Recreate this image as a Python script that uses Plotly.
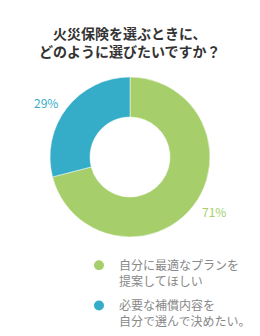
import math
import plotly.graph_objects as go

labels = ["自分に最適なプランを<br>提案してほしい", "必要な補償内容を<br>自分で選んで決めたい。"]
values = [71, 29]
colors = ["#a6cf6b", "#35adc8"]
title = "火災保険を選ぶときに、<br>どのように選びたいですか？"

FONT = "Noto Sans CJK JP"
W, H = 260, 336
CX, CY, R = 130, 157, 80  # pie centre / radius in pixels

fig = go.Figure()
fig.add_trace(go.Pie(
    labels=labels, values=values, hole=0.5, sort=False, direction="clockwise",
    rotation=0, marker=dict(colors=colors, line=dict(color="white", width=0.5)),
    textinfo="none", showlegend=False, hoverinfo="label+percent",
    domain=dict(x=[(CX - R) / W, (CX + R) / W], y=[(H - CY - R) / H, (H - CY + R) / H]),
))
for i, (lab, col) in enumerate(zip(labels, colors)):
    fig.add_trace(go.Scatter(
        x=[None], y=[None], mode="markers", name=lab, legendgroup=f"g{i}",
        marker=dict(color=col, size=10, symbol="circle"),
    ))

# percentage labels just outside each slice's middle
total = sum(values)
cum = 0
for v, col in zip(values, colors):
    mid = (cum + v / 2) / total * 2 * math.pi
    cum += v
    px = CX + (R + 9) * math.sin(mid)
    py = CY - (R + 9) * math.cos(mid)
    fig.add_annotation(text=f"{round(v / total * 100)}%", x=px / W, y=1 - py / H,
                       xref="paper", yref="paper", showarrow=False,
                       xanchor="left" if math.sin(mid) > 0 else "right", yanchor="middle",
                       font=dict(size=12, color=col, family=FONT))

fig.add_annotation(text="<b>" + title + "</b>", x=0.5, xref="paper", xanchor="center",
                   y=1 - 21 / H, yref="paper", yanchor="top", showarrow=False,
                   font=dict(size=14, color="#333333", family=FONT))

fig.update_layout(
    width=W, height=H, margin=dict(l=0, r=0, t=0, b=0, autoexpand=False),
    paper_bgcolor="white", plot_bgcolor="white",
    font=dict(family=FONT),
    xaxis=dict(visible=False), yaxis=dict(visible=False),
    legend=dict(x=79 / W, y=1 - 251 / H, xanchor="left", yanchor="top",
                font=dict(size=12, color="#888888", family=FONT),
                valign="top", tracegroupgap=6, itemwidth=30),
)
fig.write_html("out.html")
